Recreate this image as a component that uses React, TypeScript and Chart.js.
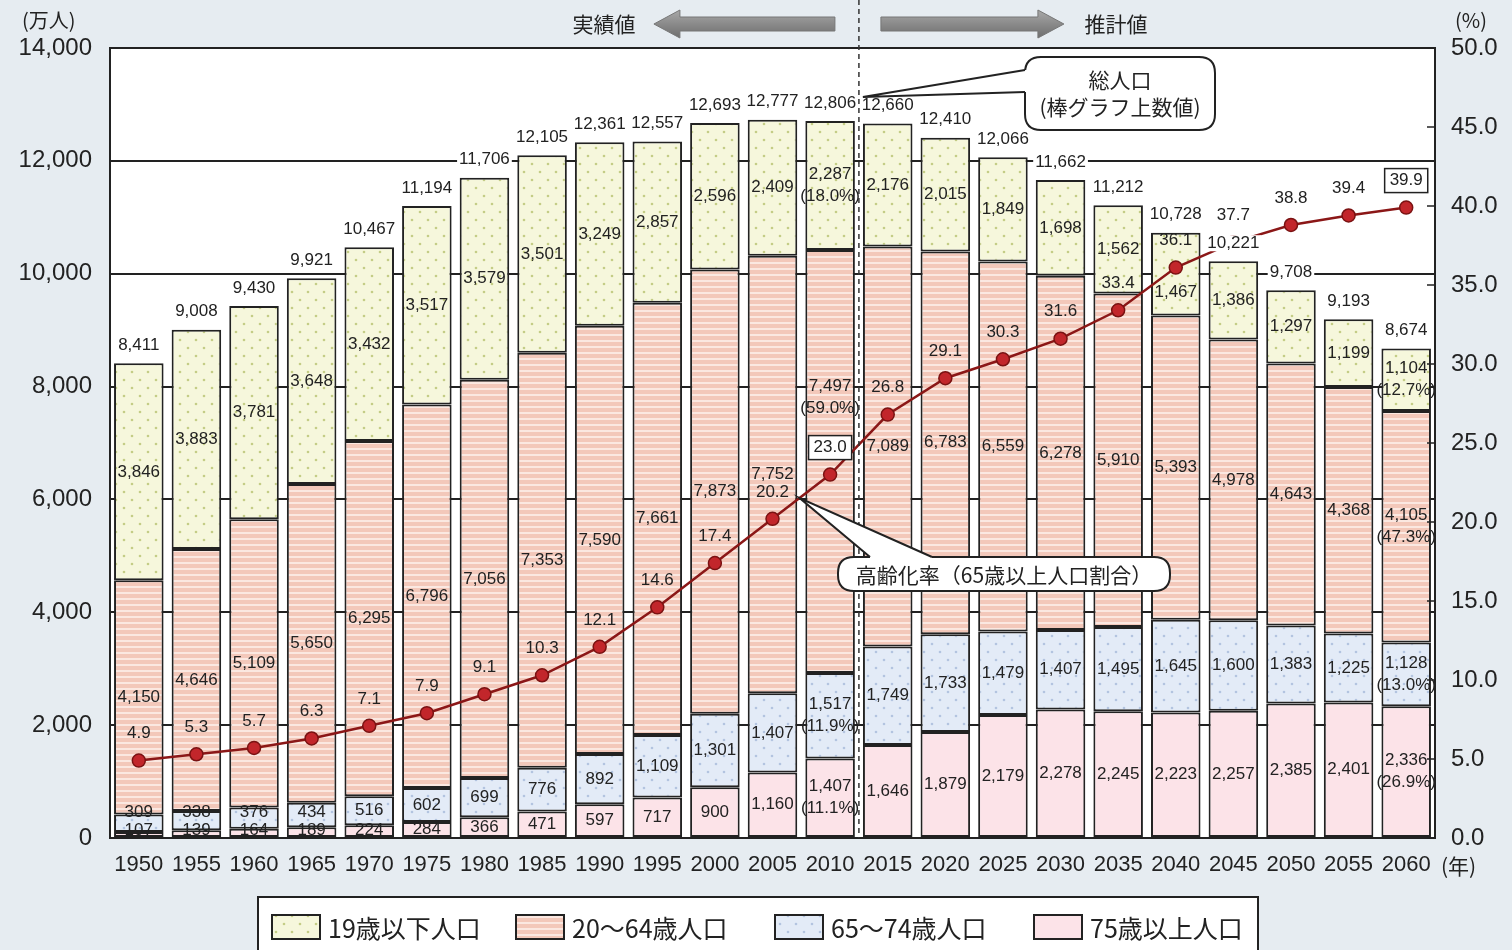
import React, { useEffect, useRef } from "react";
import { Chart, registerables } from "chart.js";
Chart.register(...registerables);

// ---------- data ----------
const years = ["1950","1955","1960","1965","1970","1975","1980","1985","1990","1995","2000","2005","2010","2015","2020","2025","2030","2035","2040","2045","2050","2055","2060"];
const age75plus = [107,139,164,189,224,284,366,471,597,717,900,1160,1407,1646,1879,2179,2278,2245,2223,2257,2385,2401,2336];
const age65to74 = [309,338,376,434,516,602,699,776,892,1109,1301,1407,1517,1749,1733,1479,1407,1495,1645,1600,1383,1225,1128];
const age20to64 = [4150,4646,5109,5650,6295,6796,7056,7353,7590,7661,7873,7752,7497,7089,6783,6559,6278,5910,5393,4978,4643,4368,4105];
const age19under = [3846,3883,3781,3648,3432,3517,3579,3501,3249,2857,2596,2409,2287,2176,2015,1849,1698,1562,1467,1386,1297,1199,1104];
const totals = [8411,9008,9430,9921,10467,11194,11706,12105,12361,12557,12693,12777,12806,12660,12410,12066,11662,11212,10728,10221,9708,9193,8674];
const agingRate = [4.9,5.3,5.7,6.3,7.1,7.9,9.1,10.3,12.1,14.6,17.4,20.2,23.0,26.8,29.1,30.3,31.6,33.4,36.1,37.7,38.8,39.4,39.9];
// shares shown in parentheses (order: 75+, 65-74, 20-64, <=19)
const share2010 = ["11.1%","11.9%","59.0%","18.0%"];
const share2060 = ["26.9%","13.0%","47.3%","12.7%"];
const seriesNames = ["75歳以上人口","65～74歳人口","20～64歳人口","19歳以下人口"];
const legendOrder = ["19歳以下人口","20～64歳人口","65～74歳人口","75歳以上人口"];
const leftTicks = [0,2000,4000,6000,8000,10000,12000,14000];
const rightTicks = [0,5,10,15,20,25,30,35,40,45,50];
const boxedRateYears = ["2010","2060"];
const lastActualYear = "2010";

const FONT = '"Liberation Sans", "Noto Sans CJK JP", sans-serif';
const JFONT = '"Noto Sans CJK JP", sans-serif';
const INK = "#222";

// label nudges (year-datasetIndex) to keep texts clear of the line
const labelNudge: Record<string, number> = { "2010-2": -64, "2040-3": 18 };

function makeTile(kind: string): HTMLCanvasElement {
  const c = document.createElement("canvas");
  const g = c.getContext("2d")!;
  if (kind === "under19" || kind === "age65") {
    c.width = 16; c.height = 16;
    g.fillStyle = kind === "under19" ? "#f6f7dc" : "#e3ebf7";
    g.fillRect(0, 0, 16, 16);
    g.fillStyle = kind === "under19" ? "#c4cd86" : "#b3c4e0";
    [[4, 4], [12, 12]].forEach(([x, y]) => { g.beginPath(); g.arc(x, y, 1.3, 0, Math.PI * 2); g.fill(); });
  } else if (kind === "age20") {
    c.width = 8; c.height = 6;
    g.fillStyle = "#f3c8ba"; g.fillRect(0, 0, 8, 6);
    g.fillStyle = "#fbe8e1"; g.fillRect(0, 4, 8, 2);
  } else {
    c.width = 4; c.height = 4;
    g.fillStyle = "#fce3e8"; g.fillRect(0, 0, 4, 4);
  }
  return c;
}

function fmt(v: number) { return v.toLocaleString("en-US"); }

function roundRectPath(ctx: CanvasRenderingContext2D, x: number, y: number, w: number, h: number, r: number) {
  ctx.beginPath();
  ctx.moveTo(x + r, y);
  ctx.lineTo(x + w - r, y); ctx.quadraticCurveTo(x + w, y, x + w, y + r);
  ctx.lineTo(x + w, y + h - r); ctx.quadraticCurveTo(x + w, y + h, x + w - r, y + h);
  ctx.lineTo(x + r, y + h); ctx.quadraticCurveTo(x, y + h, x, y + h - r);
  ctx.lineTo(x, y + r); ctx.quadraticCurveTo(x, y, x + r, y);
  ctx.closePath();
}

function callout(ctx: CanvasRenderingContext2D, x: number, y: number, w: number, h: number, r: number,
  tip: [number, number], b1: [number, number], b2: [number, number], inward: [number, number]) {
  ctx.save();
  roundRectPath(ctx, x, y, w, h, r);
  ctx.fillStyle = "#fff"; ctx.fill();
  ctx.lineWidth = 2; ctx.strokeStyle = INK; ctx.stroke();
  ctx.beginPath();
  ctx.moveTo(tip[0], tip[1]);
  ctx.lineTo(b1[0], b1[1]);
  ctx.lineTo(b1[0] + inward[0], b1[1] + inward[1]);
  ctx.lineTo(b2[0] + inward[0], b2[1] + inward[1]);
  ctx.lineTo(b2[0], b2[1]);
  ctx.closePath();
  ctx.fillStyle = "#fff"; ctx.fill();
  ctx.beginPath();
  ctx.moveTo(b1[0], b1[1]); ctx.lineTo(tip[0], tip[1]); ctx.lineTo(b2[0], b2[1]);
  ctx.stroke();
  ctx.restore();
}

function arrow(ctx: CanvasRenderingContext2D, tailX: number, tipX: number, y: number) {
  const dir = tipX > tailX ? 1 : -1;
  const headLen = 26, shaftH = 7, headH = 14;
  const hb = tipX - dir * headLen;
  ctx.save();
  const grad = ctx.createLinearGradient(0, y - headH, 0, y + headH);
  grad.addColorStop(0, "#a9a9a9"); grad.addColorStop(0.5, "#8a8a8a"); grad.addColorStop(1, "#6e6e6e");
  ctx.beginPath();
  ctx.moveTo(tailX, y - shaftH);
  ctx.lineTo(hb, y - shaftH);
  ctx.lineTo(hb, y - headH);
  ctx.lineTo(tipX, y);
  ctx.lineTo(hb, y + headH);
  ctx.lineTo(hb, y + shaftH);
  ctx.lineTo(tailX, y + shaftH);
  ctx.closePath();
  ctx.fillStyle = grad; ctx.fill();
  ctx.strokeStyle = "#777"; ctx.lineWidth = 1; ctx.stroke();
  ctx.restore();
}

export default function App() {
  const ref = useRef<HTMLCanvasElement>(null);
  useEffect(() => {
    document.body.style.margin = "0";
    document.body.style.background = "#e6ecf1";
    const canvas = ref.current!;
    const ctx0 = canvas.getContext("2d")!;
    const kinds = ["age75", "age65", "age20", "under19"];
    const fills = kinds.map((k) => ctx0.createPattern(makeTile(k), "repeat")!);
    const legendFill: Record<string, CanvasPattern> = {};
    seriesNames.forEach((n, i) => { legendFill[n] = fills[i]; });
    const values = [age75plus, age65to74, age20to64, age19under];

    const bgPlugin = {
      id: "bg",
      beforeDraw(chart: any) {
        const { ctx, chartArea: a } = chart;
        ctx.save();
        ctx.fillStyle = "#e6ecf1";
        ctx.fillRect(0, 0, chart.width, chart.height);
        ctx.fillStyle = "#fff";
        ctx.fillRect(a.left, a.top, a.right - a.left, a.bottom - a.top);
        ctx.restore();
      },
    };

    const labelPlugin = {
      id: "labels",
      afterDatasetsDraw(chart: any) {
        const { ctx, chartArea: a } = chart;
        ctx.save();
        ctx.textAlign = "center";
        ctx.textBaseline = "middle";
        ctx.fillStyle = INK;
        ctx.font = `17px ${FONT}`;
        years.forEach((yr, i) => {
          let limit = a.bottom - 8;
          const shares = yr === "2010" ? share2010 : yr === "2060" ? share2060 : null;
          for (let d = 0; d < 4; d++) {
            const el: any = chart.getDatasetMeta(d).data[i];
            const p = el.getProps(["x", "y", "base"], true);
            let cy = (p.y + p.base) / 2;
            cy += labelNudge[`${yr}-${d}`] || 0;
            const half = shares ? 11 : 0;
            cy = Math.min(cy, limit - half);
            if (shares) {
              ctx.fillText(fmt(values[d][i]), p.x, cy - 11);
              ctx.fillText(`(${shares[d]})`, p.x, cy + 11);
            } else {
              ctx.fillText(fmt(values[d][i]), p.x, cy);
            }
            limit = cy - half - 18;
          }
          // total
          const top: any = chart.getDatasetMeta(3).data[i];
          const tp = top.getProps(["x", "y"], true);
          const t = fmt(totals[i]);
          const tw = ctx.measureText(t).width;
          const ty = tp.y - 18;
          ctx.fillStyle = "#fff";
          ctx.fillRect(tp.x - tw / 2 - 2, ty - 8, tw + 4, 16);
          ctx.fillStyle = INK;
          ctx.fillText(t, tp.x, ty);
        });
        // aging rate labels
        const lm = chart.getDatasetMeta(4);
        years.forEach((yr, i) => {
          const pt: any = lm.data[i];
          const p = pt.getProps(["x", "y"], true);
          const ly = p.y - 27;
          const s = agingRate[i].toFixed(1);
          if (boxedRateYears.includes(yr)) {
            const w = ctx.measureText(s).width + 10;
            ctx.fillStyle = "#fff";
            ctx.fillRect(p.x - w / 2, ly - 12, w, 24);
            ctx.strokeStyle = INK; ctx.lineWidth = 1.5;
            ctx.strokeRect(p.x - w / 2, ly - 12, w, 24);
            ctx.fillStyle = INK;
          }
          ctx.fillText(s, p.x, ly);
        });
        ctx.restore();
      },
    };

    const decoPlugin = {
      id: "deco",
      afterDraw(chart: any) {
        const { ctx, chartArea: a } = chart;
        const xs = chart.scales.x, y1 = chart.scales.y1;
        ctx.save();
        // frame
        ctx.strokeStyle = INK; ctx.lineWidth = 2;
        ctx.strokeRect(a.left, a.top, a.right - a.left, a.bottom - a.top);
        // right inner ticks
        ctx.lineWidth = 1.5;
        rightTicks.forEach((v) => {
          const y = y1.getPixelForValue(v);
          ctx.beginPath(); ctx.moveTo(a.right - 8, y); ctx.lineTo(a.right, y); ctx.stroke();
        });
        // dashed divider
        const idx = years.indexOf(lastActualYear);
        const dx = (xs.getPixelForValue(idx) + xs.getPixelForValue(idx + 1)) / 2;
        ctx.setLineDash([5, 4]); ctx.lineWidth = 1.5; ctx.strokeStyle = "#333";
        ctx.beginPath(); ctx.moveTo(dx, 0); ctx.lineTo(dx, a.bottom); ctx.stroke();
        ctx.setLineDash([]);
        // arrows and captions
        arrow(ctx, dx - 24, dx - 205, 24);
        arrow(ctx, dx + 22, dx + 205, 24);
        ctx.fillStyle = INK;
        ctx.font = `21px ${JFONT}`;
        ctx.textAlign = "center"; ctx.textBaseline = "middle";
        ctx.fillText("実績値", dx - 255, 24);
        ctx.fillText("推計値", dx + 257, 24);
        // unit labels
        ctx.font = `20px ${JFONT}`;
        ctx.textAlign = "left";
        ctx.fillText("(万人)", 22, 20);
        ctx.fillText("(%)", a.right + 20, 20);
        ctx.font = `21px ${JFONT}`;
        ctx.fillText("(年)", a.right + 6, 866);
        // total population callout
        const tm: any = chart.getDatasetMeta(3).data[idx];
        const tp = tm.getProps(["x", "y"], true);
        const tipY = tp.y - 24;
        callout(ctx, a.left + 915, 57, 190, 73, 16, [dx + 4, tipY], [a.left + 915, 70], [a.left + 915, 92], [4, 0]);
        ctx.fillStyle = INK;
        ctx.font = `21px ${JFONT}`;
        ctx.textAlign = "center";
        ctx.fillText("総人口", a.left + 1010, 80);
        ctx.fillText("(棒グラフ上数値)", a.left + 1010, 107);
        // aging rate callout
        const lm = chart.getDatasetMeta(4);
        const pa = (lm.data[idx - 1] as any).getProps(["x", "y"], true);
        const pb = (lm.data[idx] as any).getProps(["x", "y"], true);
        const tx = pa.x + (pb.x - pa.x) * 0.47;
        const tyy = pa.y + (pb.y - pa.y) * 0.47;
        callout(ctx, a.left + 728, 557, 332, 34, 16, [tx, tyy], [a.left + 760, 557], [a.left + 822, 557], [0, 4]);
        ctx.fillStyle = INK;
        ctx.font = `21px ${JFONT}`;
        ctx.fillText("高齢化率（65歳以上人口割合）", a.left + 894, 575);
        // legend
        ctx.fillStyle = "#fff";
        ctx.fillRect(258, 897, 1000, 70);
        ctx.strokeStyle = INK; ctx.lineWidth = 2;
        ctx.strokeRect(258, 897, 1000, 70);
        const lx = [272, 516, 775, 1034];
        legendOrder.forEach((n, k) => {
          ctx.fillStyle = legendFill[n];
          ctx.fillRect(lx[k], 915, 48, 24);
          ctx.strokeStyle = INK; ctx.lineWidth = 2;
          ctx.strokeRect(lx[k], 915, 48, 24);
          ctx.fillStyle = INK;
          ctx.font = `25px ${JFONT}`;
          ctx.textAlign = "left";
          ctx.fillText(n, lx[k] + 56, 928);
        });
        ctx.restore();
      },
    };

    const barDs = seriesNames.map((n, d) => ({
      type: "bar" as const,
      label: n,
      data: values[d],
      backgroundColor: fills[d],
      borderColor: INK,
      borderWidth: 2,
      borderSkipped: false,
      stack: "pop",
      yAxisID: "y",
      order: 1,
      barPercentage: 0.86,
      categoryPercentage: 1.0,
    }));

    const chart = new Chart(canvas, {
      type: "bar",
      data: {
        labels: years,
        datasets: [
          ...barDs,
          {
            type: "line" as const,
            label: "高齢化率",
            data: agingRate,
            yAxisID: "y1",
            borderColor: "#8b1717",
            borderWidth: 2.5,
            pointRadius: 6.5,
            pointBackgroundColor: "#c2262b",
            pointBorderColor: "#7a1212",
            pointBorderWidth: 1.5,
            tension: 0,
            order: 0,
          } as any,
        ],
      },
      options: {
        responsive: false,
        animation: false,
        devicePixelRatio: 1,
        layout: { padding: { top: 48, left: 0, right: 0, bottom: 0 } },
        plugins: { legend: { display: false }, tooltip: { enabled: false } },
        scales: {
          x: {
            stacked: true,
            grid: { display: false, drawTicks: false },
            border: { display: false },
            ticks: { color: INK, font: { family: FONT, size: 22 }, padding: 14, maxRotation: 0, autoSkip: false },
            afterFit: (s: any) => { s.height = 112; },
          },
          y: {
            stacked: true,
            position: "left",
            min: 0, max: 14000,
            afterBuildTicks: (s: any) => { s.ticks = leftTicks.map((v) => ({ value: v })); },
            ticks: { color: INK, font: { family: FONT, size: 24 }, padding: 18, callback: (v: any) => fmt(Number(v)) },
            grid: { color: INK, lineWidth: 2, drawTicks: false },
            border: { display: false },
            afterFit: (s: any) => { s.width = 110; },
          },
          y1: {
            position: "right",
            min: 0, max: 50,
            afterBuildTicks: (s: any) => { s.ticks = rightTicks.map((v) => ({ value: v })); },
            ticks: { color: INK, font: { family: FONT, size: 24 }, padding: 16, callback: (v: any) => Number(v).toFixed(1) },
            grid: { drawOnChartArea: false, drawTicks: false },
            border: { display: false },
            afterFit: (s: any) => { s.width = 77; },
          },
        },
      } as any,
      plugins: [bgPlugin, labelPlugin, decoPlugin],
    });
    return () => chart.destroy();
  }, []);
  return <canvas ref={ref} width={1512} height={950} style={{ display: "block" }} />;
}
